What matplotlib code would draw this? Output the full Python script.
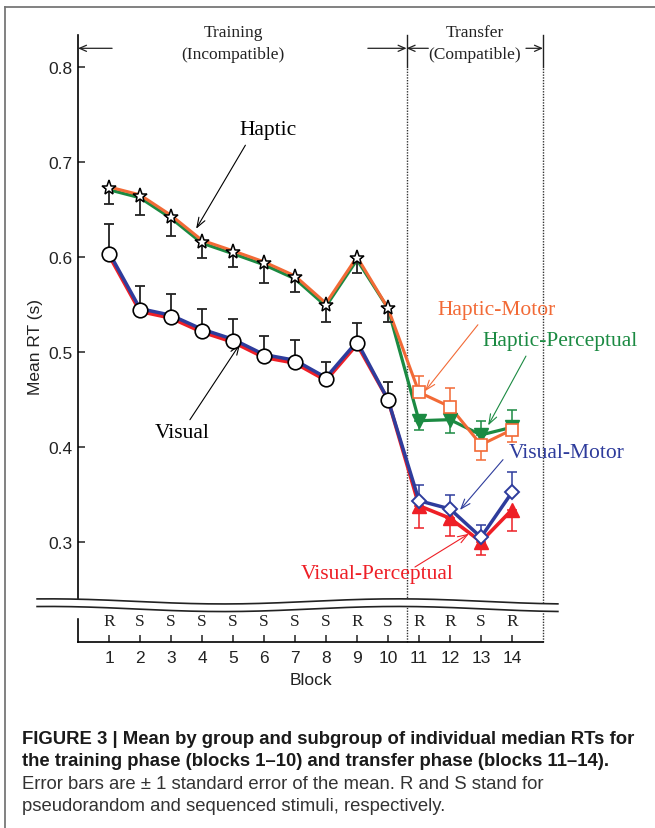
import numpy as np
import matplotlib
matplotlib.use('Agg')
import matplotlib.pyplot as plt
from matplotlib.lines import Line2D
from matplotlib.patches import Rectangle

plt.rcParams['font.family'] = ['Liberation Sans', 'DejaVu Sans']
SERIF = ['Liberation Serif', 'DejaVu Serif']

# ---- data ----
blocks = list(range(1, 15))
train_blocks = blocks[:10]
transfer_blocks = blocks[10:]
seq_labels = ['R', 'S', 'S', 'S', 'S', 'S', 'S', 'S', 'R', 'S', 'R', 'R', 'S', 'R']

# group means, training (blocks 1-10)
haptic_mean = [0.6726, 0.6642, 0.6427, 0.6164, 0.6053, 0.5937, 0.5789, 0.5501, 0.5989, 0.5463]
haptic_se = [0.0165, 0.0197, 0.0206, 0.0175, 0.0158, 0.0208, 0.0151, 0.0179, 0.0154, 0.0141]  # drawn downward
visual_mean = [0.6035, 0.5445, 0.5375, 0.5228, 0.5122, 0.4961, 0.4901, 0.4719, 0.5098, 0.4501]
visual_se = [0.0315, 0.0253, 0.0239, 0.0228, 0.0228, 0.0214, 0.0228, 0.0182, 0.0210, 0.0190]  # drawn upward

# subgroup curves (blocks 1-14)
hm_rt = [0.6741, 0.6657, 0.6442, 0.6179, 0.6068, 0.5952, 0.5804, 0.5516, 0.6004, 0.5463,
         0.4579, 0.4427, 0.4027, 0.4185]
hp_rt = [0.6711, 0.6627, 0.6412, 0.6149, 0.6038, 0.5922, 0.5774, 0.5486, 0.5974, 0.5463,
         0.4280, 0.4291, 0.4130, 0.4211]
vm_rt = [0.6050, 0.5460, 0.5390, 0.5243, 0.5137, 0.4976, 0.4916, 0.4734, 0.5113, 0.4501,
         0.3438, 0.3351, 0.3053, 0.3526]
vp_rt = [0.6020, 0.5430, 0.5360, 0.5213, 0.5107, 0.4946, 0.4886, 0.4704, 0.5083, 0.4501,
         0.3385, 0.3253, 0.3006, 0.3343]

# subgroup standard errors in transfer (blocks 11-14): [down, up]
hm_se_down = [0, 0, 0.0161, 0.0126]
hm_se_up = [0.0175, 0.0194, 0, 0]
hp_se_down = [0.0095, 0.0141, 0, 0]
hp_se_up = [0, 0, 0.0144, 0.0185]
vm_se_up = [0.0165, 0.0147, 0.0129, 0.0217]
vp_se_down = [0.0238, 0.0184, 0.0140, 0.0219]

c_hm = '#f26a36'
c_hp = '#1b8a42'
c_vm = '#2e3c9c'
c_vp = '#ee1f26'

fig = plt.figure(figsize=(6.55, 8.29), dpi=100)
ax = fig.add_axes([78/655, 1 - 643/829, 465/655, 607/829])

ylo = 0.8 - (643 - 68.3)/950
yhi = 0.8 + (68.3 - 36)/950
ax.set_xlim(0, 15)
ax.set_ylim(ylo, yhi)

# subgroup lines
ax.plot(blocks, hp_rt, color=c_hp, lw=2.3, zorder=2)
ax.plot(blocks, hm_rt, color=c_hm, lw=2.2, zorder=2)
ax.plot(blocks, vp_rt, color=c_vp, lw=2.6, zorder=2)
ax.plot(blocks, vm_rt, color=c_vm, lw=2.5, zorder=2)

# training error bars + group markers
ax.errorbar(train_blocks, haptic_mean, yerr=[haptic_se, [0]*10], fmt='none',
            ecolor='#222222', elinewidth=1.3, capsize=3.5, capthick=1.3, zorder=3)
ax.errorbar(train_blocks, visual_mean, yerr=[[0]*10, visual_se], fmt='none',
            ecolor='#222222', elinewidth=1.3, capsize=3.5, capthick=1.3, zorder=3)
ax.plot(train_blocks, haptic_mean, ls='none', marker='*', ms=11, mfc='white',
        mec='black', mew=1.1, zorder=5)
ax.plot(train_blocks, visual_mean, ls='none', marker='o', ms=10.5, mfc='white',
        mec='black', mew=1.2, zorder=5)

# transfer error bars + subgroup markers
tr = slice(10, 14)
ax.errorbar(transfer_blocks, hp_rt[tr], yerr=[hp_se_down, hp_se_up], fmt='none',
            ecolor=c_hp, elinewidth=1.1, capsize=3.5, capthick=1.1, zorder=3)
ax.errorbar(transfer_blocks, hm_rt[tr], yerr=[hm_se_down, hm_se_up], fmt='none',
            ecolor=c_hm, elinewidth=1.1, capsize=3.5, capthick=1.1, zorder=3)
ax.errorbar(transfer_blocks, vp_rt[tr], yerr=[vp_se_down, [0]*4], fmt='none',
            ecolor=c_vp, elinewidth=1.1, capsize=3.5, capthick=1.1, zorder=3)
ax.errorbar(transfer_blocks, vm_rt[tr], yerr=[[0]*4, vm_se_up], fmt='none',
            ecolor=c_vm, elinewidth=1.1, capsize=3.5, capthick=1.1, zorder=3)
ax.plot(transfer_blocks, hp_rt[tr], ls='none', marker='v', ms=10.5, color=c_hp, zorder=4)
ax.plot(transfer_blocks, hm_rt[tr], ls='none', marker='s', ms=9, mfc='white',
        mec=c_hm, mew=1.2, zorder=5)
ax.plot(transfer_blocks, vp_rt[tr], ls='none', marker='^', ms=10.5, color=c_vp, zorder=4)
ax.plot(transfer_blocks, vm_rt[tr], ls='none', marker='D', ms=7.5, mfc='white',
        mec=c_vm, mew=1.4, zorder=5)

# phase separators
ytop_solid = 0.8 - (68 - 68.3)/950
for xv in (10.6, 15):
    ax.plot([xv, xv], [ylo, ytop_solid], color='#333333', lw=1, ls=(0, (1, 1)),
            zorder=1, clip_on=False)
    ax.plot([xv, xv], [ytop_solid, yhi], color='#222222', lw=1, zorder=1, clip_on=False)

ya = 0.8 + (68.3 - 49.3)/950
arr = dict(arrowstyle='->,head_length=0.5,head_width=0.22', lw=0.9, color='#222222',
           shrinkA=0, shrinkB=0)
ax.annotate('', xy=(0, ya), xytext=(1.1, ya), arrowprops=arr)
ax.annotate('', xy=(10.6, ya), xytext=(9.35, ya), arrowprops=arr)
ax.annotate('', xy=(10.6, ya), xytext=(11.3, ya), arrowprops=arr)
ax.annotate('', xy=(15, ya), xytext=(14.45, ya), arrowprops=arr)
ax.text(5.0, 0.8 + (68.3 - 33)/950, 'Training', ha='center', va='center',
        family=SERIF, fontsize=12.5, color='#222222')
ax.text(5.0, 0.8 + (68.3 - 55)/950, '(Incompatible)', ha='center', va='center',
        family=SERIF, fontsize=12.5, color='#222222')
ax.text(12.8, 0.8 + (68.3 - 33)/950, 'Transfer', ha='center', va='center',
        family=SERIF, fontsize=12.5, color='#222222')
ax.text(12.8, 0.8 + (68.3 - 55)/950, '(Compatible)', ha='center', va='center',
        family=SERIF, fontsize=12.5, color='#222222')

# group / subgroup labels with arrows
def label(txt, xy_text, xy_tail, xy_tip, col):
    ax.text(xy_text[0], xy_text[1], txt, ha='center', va='center', family=SERIF,
            fontsize=15.5, color=col)
    ax.annotate('', xy=xy_tip, xytext=xy_tail,
                arrowprops=dict(arrowstyle='->,head_length=0.7,head_width=0.25',
                                lw=0.8, color=col, shrinkA=0, shrinkB=0))

label('Haptic', (6.13, 0.735), (5.4, 0.718), (3.81, 0.630), 'black')
label('Visual', (3.35, 0.416), (3.61, 0.429), (5.23, 0.509), 'black')
label('Haptic-Motor', (13.5, 0.545), (12.9, 0.529), (11.19, 0.459), c_hm)
label('Haptic-Perceptual', (15.55, 0.512), (14.45, 0.496), (13.23, 0.423), c_hp)
label('Visual-Motor', (15.75, 0.395), (13.71, 0.387), (12.32, 0.334), c_vm)
label('Visual-Perceptual', (9.65, 0.267), (10.87, 0.274), (12.61, 0.309), c_vp)

# R / S row
for b, s in zip(blocks, seq_labels):
    ax.text(b, 0.8 - (621.7 - 68.3)/950, s, ha='center', va='center', family=SERIF,
            fontsize=12.5, color='#222222')

# axis break
xw = np.linspace(-0.088, 1.032, 400)
wave = 0.0042*np.sin(2*np.pi*(xw + 0.25)/0.75)
y_up = (643 - 603)/598 + wave
y_dn = (643 - 610.5)/598 + wave
ax.fill_between(xw, y_dn, y_up, color='white', transform=ax.transAxes, clip_on=False, zorder=6)
ax.plot(xw, y_up, color='#222222', lw=1.2, transform=ax.transAxes, clip_on=False, zorder=7)
ax.plot(xw, y_dn, color='#222222', lw=1.2, transform=ax.transAxes, clip_on=False, zorder=7)
ax.add_patch(Rectangle((-0.01, (643 - 618)/598), 0.02, (618 - 606)/598, color='white',
                       transform=ax.transAxes, clip_on=False, zorder=6))

# axes styling
for sp in ('top', 'right'):
    ax.spines[sp].set_visible(False)
ax.spines['left'].set_linewidth(1.2)
ax.spines['bottom'].set_linewidth(1.2)
ax.set_yticks([0.3, 0.4, 0.5, 0.6, 0.7, 0.8])
ax.set_yticklabels(['0.3', '0.4', '0.5', '0.6', '0.7', '0.8'])
ax.set_xticks(blocks)
ax.tick_params(direction='in', length=5, width=1.1, labelsize=12.5, colors='#222222')
ax.tick_params(axis='x', pad=6)
ax.tick_params(axis='y', pad=4)
ax.set_ylabel('Mean RT (s)', fontsize=12.5, color='#222222')
ax.yaxis.set_label_coords(-0.076, 0.487)
ax.set_xlabel('Block', fontsize=12.5, color='#222222')
ax.xaxis.set_label_coords(0.5, -0.05)

# frame around the figure panel
fig.add_artist(Line2D([5/655, 5/655], [0, 1 - 8/829], color='#777777', lw=1.3))
fig.add_artist(Line2D([5/655, 1], [1 - 8/829, 1 - 8/829], color='#777777', lw=1.3))

# caption
cap_font = ['Liberation Sans Narrow', 'Liberation Sans', 'DejaVu Sans']
fig.text(22/655, 1 - 740/829,
         'FIGURE 3 | Mean by group and subgroup of individual median RTs for',
         fontsize=13.3, fontweight='bold', family=cap_font, va='center', color='#1a1a1a')
fig.text(22/655, 1 - 762/829,
         'the training phase (blocks 1\u201310) and transfer phase (blocks 11\u201314).',
         fontsize=13.3, fontweight='bold', family=cap_font, va='center', color='#1a1a1a')
fig.text(22/655, 1 - 785/829,
         'Error bars are \u00b1 1 standard error of the mean. R and S stand for',
         fontsize=13.3, family=cap_font, va='center', color='#333333')
fig.text(22/655, 1 - 807/829,
         'pseudorandom and sequenced stimuli, respectively.',
         fontsize=13.3, family=cap_font, va='center', color='#333333')

fig.savefig('out.png', dpi=100, facecolor='white')
